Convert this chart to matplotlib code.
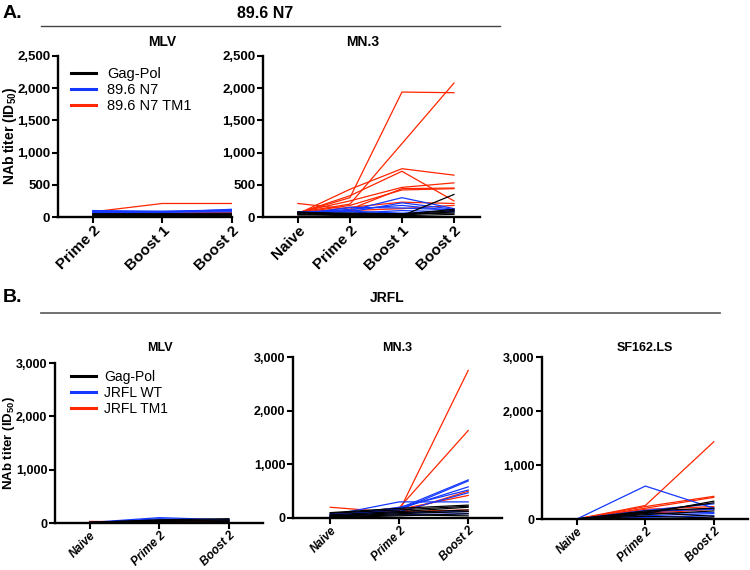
import numpy as np
import matplotlib
matplotlib.use("Agg")
import matplotlib.pyplot as plt
from matplotlib.lines import Line2D

plt.rcParams['font.family'] = ['Liberation Sans', 'DejaVu Sans']
plt.rcParams['mathtext.fontset'] = 'custom'
plt.rcParams['mathtext.rm'] = 'Liberation Sans:bold'
plt.rcParams['mathtext.bf'] = 'Liberation Sans:bold'

BLACK = '#000000'
BLUE = '#1438ff'
RED = '#ff2600'

# ---- panel A: 89.6 N7 ----
a_mlv_tp = ["Prime 2", "Boost 1", "Boost 2"]
a_mlv_gag = [[40, 40, 40], [30, 30, 35], [50, 45, 50], [20, 25, 20], [45, 50, 45]]
a_mlv_n7 = [[100, 90, 110], [80, 85, 95], [90, 80, 100], [70, 75, 80], [60, 70, 120]]
a_mlv_tm1 = [[80, 210, 210], [50, 60, 70], [40, 50, 60]]

a_mn3_tp = ["Naive", "Prime 2", "Boost 1", "Boost 2"]
a_mn3_gag = [[80, 40, 20, 350], [60, 50, 40, 120], [50, 30, 30, 80],
             [70, 60, 50, 60], [40, 20, 20, 40], [30, 40, 50, 100]]
a_mn3_n7 = [[80, 100, 300, 130], [70, 80, 220, 120], [60, 120, 180, 100],
            [50, 60, 100, 80], [40, 150, 140, 110], [70, 90, 60, 90]]
a_mn3_tm1 = [[60, 300, 1940, 1930], [70, 200, 1140, 2080], [50, 430, 750, 650],
             [60, 330, 710, 250], [70, 250, 460, 530], [210, 120, 440, 450],
             [60, 180, 420, 440], [50, 150, 230, 210], [80, 100, 130, 180]]

# ---- panel B: JRFL ----
b_tp = ["Naive", "Prime 2", "Boost 2"]
b_mlv_gag = [[10, 60, 80], [5, 40, 60], [10, 30, 40], [15, 50, 30]]
b_mlv_wt = [[10, 100, 60], [5, 80, 50], [10, 60, 70]]
b_mlv_tm1 = [[30, 20, 30], [20, 30, 40]]

b_mn3_gag = [[100, 180, 240], [90, 150, 220], [60, 120, 200], [40, 100, 150],
             [30, 80, 120], [20, 60, 40], [10, 40, 80]]
b_mn3_wt = [[50, 300, 300], [80, 180, 710], [60, 150, 690], [40, 170, 580],
            [70, 120, 470], [30, 200, 520], [50, 100, 120], [20, 60, 80]]
b_mn3_tm1 = [[50, 130, 2750], [60, 190, 1630], [200, 100, 500], [40, 160, 420],
             [30, 120, 150]]

b_sf_gag = [[0, 100, 330], [0, 130, 300], [0, 150, 200], [0, 80, 150],
            [0, 120, 50], [0, 50, 20]]
b_sf_wt = [[0, 610, 200], [0, 160, 280], [0, 140, 180], [0, 100, 120],
           [0, 60, 100], [0, 30, 60]]
b_sf_tm1 = [[0, 250, 1430], [0, 230, 420], [0, 200, 400], [0, 180, 230],
            [0, 120, 200], [0, 100, 180]]


def panel(ax, tp, gag, wt, tm1, ymax, ystep, xlim, italic=False, xfs=11, yfs=9.5):
    x = np.arange(len(tp))
    for ser, c in ((tm1, RED), (wt, BLUE), (gag, BLACK)):
        for s in ser:
            ax.plot(x, s, color=c, lw=0.9)
    ax.set_xlim(*xlim)
    ax.set_ylim(0, ymax)
    ax.set_yticks(np.arange(0, ymax + 1, ystep))
    ax.set_yticklabels(["{:,}".format(v) for v in range(0, ymax + 1, ystep)],
                       fontsize=yfs, fontweight='bold')
    ax.set_xticks(x)
    ax.set_xticklabels(tp, rotation=45, ha='right', rotation_mode='anchor',
                       fontsize=xfs, fontweight='bold',
                       style='italic' if italic else 'normal')
    for s in ('top', 'right'):
        ax.spines[s].set_visible(False)
    for s in ('left', 'bottom'):
        ax.spines[s].set_linewidth(1.7)
    ax.tick_params(width=1.5, length=4, pad=1.5)
    ax.tick_params(axis='x', pad=0.5)
    ax.patch.set_alpha(0)


fig = plt.figure(figsize=(7.5, 5.7), dpi=100)
W, H = 750.0, 570.0


def box(l, r, top, bot):
    return [l / W, 1 - bot / H, (r - l) / W, (bot - top) / H]


ax1 = fig.add_axes(box(58, 232, 56, 217))
panel(ax1, a_mlv_tp, a_mlv_gag, a_mlv_n7, a_mlv_tm1, 2500, 500, (-0.5, 2.0))
ax2 = fig.add_axes(box(263, 480, 56, 217))
panel(ax2, a_mn3_tp, a_mn3_gag, a_mn3_n7, a_mn3_tm1, 2500, 500, (-0.67, 3.5))

ax3 = fig.add_axes(box(55, 263, 363, 523))
panel(ax3, b_tp, b_mlv_gag, b_mlv_wt, b_mlv_tm1, 3000, 1000, (-0.5, 2.49), True, 8.5, 9)
ax4 = fig.add_axes(box(293, 502, 357, 518))
panel(ax4, b_tp, b_mn3_gag, b_mn3_wt, b_mn3_tm1, 3000, 1000, (-0.54, 2.49), True, 8.5, 9)
ax5 = fig.add_axes(box(542, 748, 357, 519))
panel(ax5, b_tp, b_sf_gag, b_sf_wt, b_sf_tm1, 3000, 1000, (-0.51, 2.5), True, 8.5, 9)

ylab = "NAb titer (ID$_{50}$)"
fig.text(10 / W, 1 - 136 / H, ylab, rotation=90, ha='center', va='center',
         fontsize=10, fontweight='bold')
fig.text(9 / W, 1 - 443 / H, ylab, rotation=90, ha='center', va='center',
         fontsize=9.5, fontweight='bold')

# legends
la = [Line2D([], [], color=c, lw=2.2) for c in (BLACK, BLUE, RED)]
ax1.legend(la, ["Gag-Pol", "89.6 N7", "89.6 N7 TM1"], loc='upper left',
           bbox_to_anchor=(0.04, 0.97), frameon=False, fontsize=10.5,
           handlelength=1.7, handletextpad=0.8, labelspacing=0.15,
           borderaxespad=0)
ax3.legend(la, ["Gag-Pol", "JRFL WT", "JRFL TM1"], loc='upper left',
           bbox_to_anchor=(0.05, 0.99), frameon=False, fontsize=10,
           handlelength=1.8, handletextpad=0.6, labelspacing=0.15,
           borderaxespad=0)

# titles
fig.text(162 / W, 1 - 42 / H, "MLV", ha='center', va='center', fontsize=10, fontweight='bold')
fig.text(363 / W, 1 - 42 / H, "MN.3", ha='center', va='center', fontsize=10, fontweight='bold')
fig.text(160 / W, 1 - 348 / H, "MLV", ha='center', va='center', fontsize=9, fontweight='bold')
fig.text(397 / W, 1 - 348 / H, "MN.3", ha='center', va='center', fontsize=9, fontweight='bold')
fig.text(645 / W, 1 - 348 / H, "SF162.LS", ha='center', va='center', fontsize=9, fontweight='bold')

fig.text(265 / W, 1 - 13 / H, "89.6 N7", ha='center', va='center', fontsize=11.5, fontweight='bold')
fig.text(387 / W, 1 - 298 / H, "JRFL", ha='center', va='center', fontsize=10, fontweight='bold')
fig.text(3 / W, 1 - 13 / H, "A.", ha='left', va='center', fontsize=14, fontweight='bold')
fig.text(3 / W, 1 - 298 / H, "B.", ha='left', va='center', fontsize=14, fontweight='bold')

fig.add_artist(Line2D([41 / W, 500 / W], [1 - 26 / H, 1 - 26 / H], color='#444444', lw=1.0))
fig.add_artist(Line2D([41 / W, 720 / W], [1 - 313 / H, 1 - 313 / H], color='#666666', lw=1.3))

fig.savefig("out.png", dpi=100)
